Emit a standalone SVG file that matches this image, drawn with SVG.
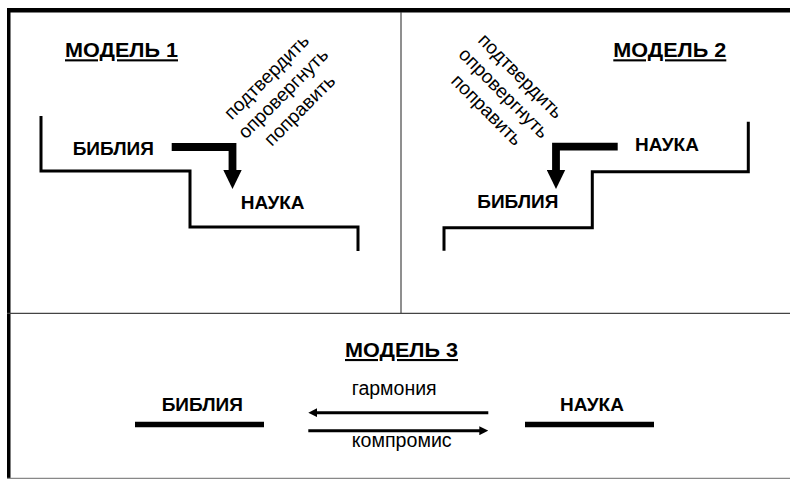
<svg xmlns="http://www.w3.org/2000/svg" width="790" height="479" viewBox="0 0 790 479">
<defs>
<style>
.t{font-family:"Liberation Sans",Arial,sans-serif;fill:#000}
.b{font-weight:bold;font-size:19px}
.h{font-weight:bold;font-size:21px;text-decoration:underline}
.r{font-size:19px}
.m{font-size:20px}
.step{fill:none;stroke:#000;stroke-width:3;stroke-linejoin:miter}
.fat{fill:none;stroke:#000;stroke-width:7.8;stroke-linejoin:miter}
.thin{fill:none;stroke:#000;stroke-width:3}
.bar{stroke:#000;stroke-width:5.6}
</style>
<marker id="bigHead" markerUnits="userSpaceOnUse" viewBox="0 -9.5 19 19" markerWidth="19" markerHeight="19" refX="1" refY="0" orient="auto">
<path d="M0,-9.2 L19,0 L0,9.2 Z" fill="#000"/>
</marker>
<marker id="smallHead" markerUnits="userSpaceOnUse" viewBox="0 0 9 9" markerWidth="9" markerHeight="9" refX="2" refY="4.5" orient="auto">
<path d="M0,0 L9,4.5 L0,9 Z" fill="#000"/>
</marker>
</defs>
<rect width="790" height="479" fill="#fff"/>
<g id="frame">
<rect x="7" y="8" width="783" height="4.5" fill="#000"/>
<rect x="7" y="8" width="3.5" height="471" fill="#000"/>
<line x1="7" y1="313.3" x2="790" y2="313.3" stroke="#444" stroke-width="1.3"/>
<line x1="7" y1="478.3" x2="790" y2="478.3" stroke="#888" stroke-width="1.2"/>
<line x1="401" y1="12" x2="401" y2="313" stroke="#333" stroke-width="1.1"/>
</g>
<g id="model1">
<text class="t h" x="65" y="57.3" textLength="113" lengthAdjust="spacingAndGlyphs">МОДЕЛЬ 1</text>
<path class="step" d="M41,116 V171 H190 V227 H358 V251"/>
<g id="m1-bible"><text class="t b" x="72.7" y="154.5">БИБЛИЯ</text></g>
<g id="m1-science"><text class="t b" x="240.7" y="208.5">НАУКА</text></g>
<g id="m1-labels" transform="translate(271,81.3) rotate(-45)" text-anchor="middle">
<text class="t r" x="0" y="0">подтвердить</text>
<text class="t r" x="0" y="23.5">опровергнуть</text>
<text class="t r" x="0" y="47">поправить</text>
</g>
</g>
<g id="model2">
<text class="t h" x="613.3" y="57.3" textLength="113" lengthAdjust="spacingAndGlyphs">МОДЕЛЬ 2</text>
<path class="step" d="M748.3,121.7 V171.7 H592.3 V227.7 H444 V250.7"/>
<g id="m2-science"><text class="t b" x="635" y="150.7">НАУКА</text></g>
<g id="m2-bible"><text class="t b" x="477.3" y="208.3">БИБЛИЯ</text></g>
<g id="m2-labels" transform="translate(516.3,80.5) rotate(45)" text-anchor="middle">
<text class="t r" x="0" y="0">подтвердить</text>
<text class="t r" x="0" y="24">опровергнуть</text>
<text class="t r" x="0" y="48">поправить</text>
</g>
</g>
<g id="model3">
<text class="t h" x="345" y="357" textLength="113" lengthAdjust="spacingAndGlyphs">МОДЕЛЬ 3</text>
<g id="m3-bible"><text class="t b" x="161.7" y="410.7">БИБЛИЯ</text><line class="bar" x1="135" y1="424.5" x2="264" y2="424.5"/></g>
<g id="m3-science"><text class="t b" x="560" y="410.7">НАУКА</text><line class="bar" x1="525" y1="424.5" x2="654" y2="424.5"/></g>
<text class="t m" x="351.7" y="395" textLength="85" lengthAdjust="spacingAndGlyphs">гармония</text>
<text class="t m" x="351.7" y="447.3" textLength="100" lengthAdjust="spacingAndGlyphs">компромис</text>
</g>
<g id="connectors">
<path class="fat" d="M171.7,147 H232.5 V171" marker-end="url(#bigHead)"/>
<path class="fat" d="M617.7,146.7 H556 V171" marker-end="url(#bigHead)"/>
<path class="thin" d="M488.3,412.7 H315.3" marker-end="url(#smallHead)"/>
<path class="thin" d="M308.3,430.7 H481.3" marker-end="url(#smallHead)"/>
</g>
</svg>
